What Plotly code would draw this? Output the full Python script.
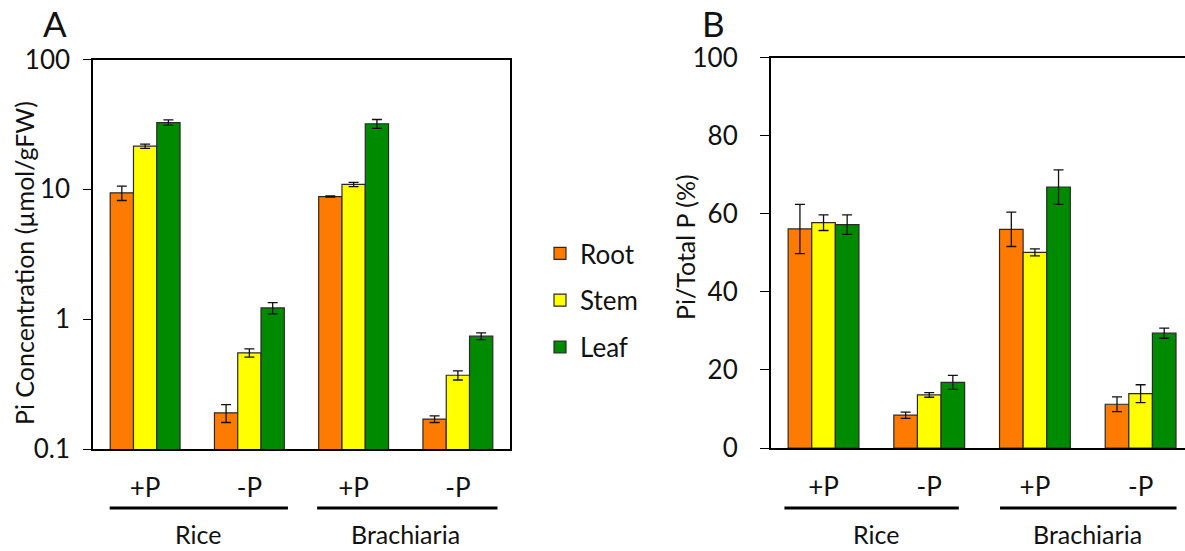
import plotly.graph_objects as go

# Treatments along the x axis, two per species
treatments = ["+P", "-P", "+P", "-P"]
species = ["Rice", "Brachiaria"]
tissues = ["Root", "Stem", "Leaf"]
colors = {"Root": "#FF7A00", "Stem": "#FFFF00", "Leaf": "#008A00"}

# Panel A: Pi concentration (µmol/gFW), log scale
conc_root = [9.4, 0.19, 8.8, 0.17]
conc_stem = [21.5, 0.55, 10.9, 0.37]
conc_leaf = [32.7, 1.22, 32.0, 0.74]
conc_root_err = [1.2, 0.03, 0.1, 0.01]
conc_stem_err = [0.8, 0.04, 0.4, 0.03]
conc_leaf_err = [1.6, 0.12, 2.5, 0.045]

# Panel B: Pi / total P (%)
ratio_root = [56.1, 8.4, 56.0, 11.2]
ratio_stem = [57.7, 13.6, 50.1, 13.9]
ratio_leaf = [57.2, 16.8, 66.8, 29.4]
ratio_root_err = [6.3, 0.8, 4.4, 1.9]
ratio_stem_err = [2.0, 0.6, 0.9, 2.3]
ratio_leaf_err = [2.5, 1.8, 4.4, 1.3]

log_ticks = [0.1, 1, 10, 100]
log_tick_text = ["0.1", "1", "10", "100"]
pct_ticks = [0, 20, 40, 60, 80, 100]

FONT = "Lato, 'Open Sans', sans-serif"
TXT = "#111"
W, H = 1185, 551
xpos = [0, 1, 2, 3]

panel_a = {
    "Root": (conc_root, conc_root_err),
    "Stem": (conc_stem, conc_stem_err),
    "Leaf": (conc_leaf, conc_leaf_err),
}
panel_b = {
    "Root": (ratio_root, ratio_root_err),
    "Stem": (ratio_stem, ratio_stem_err),
    "Leaf": (ratio_leaf, ratio_leaf_err),
}

fig = go.Figure()
for name in tissues:
    vals, errs = panel_a[name]
    fig.add_trace(go.Bar(
        x=xpos, y=vals, name=name, legendgroup=name,
        marker=dict(color=colors[name], line=dict(color="#2a2a2a", width=1.2)),
        error_y=dict(type="data", array=errs, color="#111", thickness=1.3, width=5),
        xaxis="x", yaxis="y",
    ))
for name in tissues:
    vals, errs = panel_b[name]
    fig.add_trace(go.Bar(
        x=xpos, y=vals, name=name, legendgroup=name, showlegend=False,
        marker=dict(color=colors[name], line=dict(color="#2a2a2a", width=1.2)),
        error_y=dict(type="data", array=errs, color="#111", thickness=1.3, width=5),
        xaxis="x2", yaxis="y2",
    ))


def py(px):
    return 1 - px / H


def pxx(px):
    return px / W


axis_common = dict(showline=True, linecolor="black", linewidth=1.5,
                   showgrid=False, zeroline=False, automargin=False,
                   tickfont=dict(family=FONT, size=26, color=TXT))

fig.update_layout(
    width=W, height=H,
    margin=dict(l=0, r=0, t=0, b=0, pad=0, autoexpand=False),
    paper_bgcolor="white", plot_bgcolor="white",
    barmode="group", bargap=0.33, bargroupgap=0,
    font=dict(family=FONT, color=TXT),
    xaxis=dict(domain=[pxx(93), pxx(510)], range=[-0.5, 3.5], mirror=True,
               tickvals=xpos, ticktext=treatments, ticks="",
               ticklabelstandoff=15, anchor="y", **axis_common),
    yaxis=dict(domain=[py(449), py(59.5)], type="log", range=[-1, 2], mirror=True,
               tickvals=log_ticks, ticktext=log_tick_text, ticks="outside",
               ticklen=8, tickwidth=1.3, tickcolor="black",
               ticklabelstandoff=8, anchor="x", **axis_common),
    xaxis2=dict(domain=[pxx(770.7), 1.0], range=[-0.5, 3.42], mirror=True,
                tickvals=xpos, ticktext=treatments, ticks="",
                ticklabelstandoff=15, anchor="y2", **axis_common),
    yaxis2=dict(domain=[py(448), py(57.5)], range=[0, 100], mirror=False,
                tickvals=pct_ticks, ticks="outside",
                ticklen=9, tickwidth=1.3, tickcolor="black",
                ticklabelstandoff=17, anchor="x2", **axis_common),
    legend=dict(x=pxx(540), y=py(230), xanchor="left", yanchor="top",
                font=dict(family=FONT, size=26, color=TXT),
                tracegroupgap=10, bgcolor="rgba(0,0,0,0)"),
)

# Species brackets under each pair of treatments
brackets = [
    ("x", -0.34, 1.37, 0.51, "Rice"),
    ("x", 1.65, 3.38, 2.5, "Brachiaria"),
    ("x2", -0.37, 1.28, 0.5, "Rice"),
    ("x2", 1.67, 3.34, 2.5, "Brachiaria"),
]
for xref, x0, x1, xc, label in brackets:
    fig.add_shape(type="line", xref=xref, yref="paper", x0=x0, x1=x1,
                  y0=py(508), y1=py(508), line=dict(color="black", width=3))
    fig.add_annotation(xref=xref, yref="paper", x=xc, y=py(534), text=label,
                       showarrow=False, xanchor="center", yanchor="middle",
                       font=dict(family=FONT, size=25, color=TXT))

# Axis titles and panel letters
fig.add_annotation(xref="paper", yref="paper", x=pxx(24), y=py(263),
                   text="Pi Concentration (µmol/gFW)",
                   textangle=-90, showarrow=False, xanchor="center", yanchor="middle",
                   font=dict(family=FONT, size=25, color=TXT))
fig.add_annotation(xref="paper", yref="paper", x=pxx(685), y=py(247),
                   text="Pi/Total P (%)",
                   textangle=-90, showarrow=False, xanchor="center", yanchor="middle",
                   font=dict(family=FONT, size=25, color=TXT))
fig.add_annotation(xref="paper", yref="paper", x=pxx(55), y=py(23), text="A",
                   showarrow=False, xanchor="center", yanchor="middle",
                   font=dict(family=FONT, size=35, color=TXT))
fig.add_annotation(xref="paper", yref="paper", x=pxx(713), y=py(23), text="B",
                   showarrow=False, xanchor="center", yanchor="middle",
                   font=dict(family=FONT, size=35, color=TXT))

fig.write_html("out.html")
